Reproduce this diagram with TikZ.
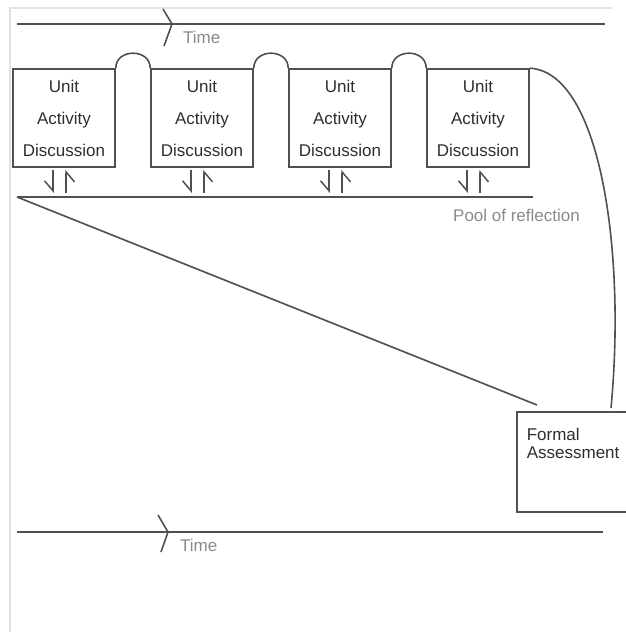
\documentclass[tikz,border=0pt]{standalone}
\usepackage{fontspec}
\setmainfont{Liberation Sans}
\usetikzlibrary{arrows.meta}

\definecolor{linegray}{HTML}{505050}
\definecolor{textdark}{HTML}{2E2E2E}
\definecolor{textlight}{HTML}{8A8A8A}
\definecolor{framegray}{HTML}{E2E2E2}

\begin{document}
\begin{tikzpicture}[
    x=1pt, y=-1pt,
    unit/.style={
      draw=linegray, line width=1.6pt, minimum width=102pt, minimum height=98pt,
      inner sep=0pt, align=center, text width=100pt, text=textdark,
      font=\fontsize{17}{32}\selectfont
    },
    fabox/.style={
      draw=linegray, line width=1.6pt, anchor=north west, align=left,
      text width=130pt, inner xsep=10pt, inner ysep=16pt,
      text height=13pt, text depth=55pt, text=textdark,
      font=\fontsize{17}{18}\selectfont
    },
    note/.style={anchor=west, inner sep=0pt, text=textlight, font=\fontsize{17}{20}\selectfont},
    ln/.style={draw=linegray, line width=1.6pt},
    hp/.style={-{Straight Barb[harpoon, swap, length=10pt, width=17pt]}, linegray, line width=1.5pt},
  ]
    \clip (0,0) rectangle (626,632);
    \draw[framegray, line width=1.8pt] (10,632) -- (10,8) -- (612,8);

    % time axes
    \coordinate (t1L) at (17,24);
    \coordinate (t1R) at (605,24);
    \coordinate (t2L) at (17,532);
    \coordinate (t2R) at (603,532);
    \draw[ln] (t1L) -- (t1R);
    \draw[ln] (163,9) -- (172,24) -- (164,46);
    \node[note] (time1) at (183,37) {Time};
    \draw[ln] (t2L) -- (t2R);
    \draw[ln] (158,515) -- (168,532) -- (161,552);
    \node[note] (time2) at (180,545) {Time};

    % units
    \node[unit] (u1) at (64,118) {Unit\\Activity\\Discussion};
    \node[unit] (u2) at (202,118) {Unit\\Activity\\Discussion};
    \node[unit] (u3) at (340,118) {Unit\\Activity\\Discussion};
    \node[unit] (u4) at (478,118) {Unit\\Activity\\Discussion};
    \draw[ln] (u1.north east) .. controls +(0,-20) and +(0,-20) .. (u2.north west);
    \draw[ln] (u2.north east) .. controls +(0,-20) and +(0,-20) .. (u3.north west);
    \draw[ln] (u3.north east) .. controls +(0,-20) and +(0,-20) .. (u4.north west);

    % pool
    \coordinate (poolL) at (17,197);
    \coordinate (poolR) at (533,197);
    \draw[ln] (poolL) -- (poolR);
    \node[note] (pool) at (453,215) {Pool of reflection};

    \draw[hp] ([xshift=-11pt, yshift=-2pt]u1.south) -- ++(0,23);
    \draw[hp] ([xshift=2pt, yshift=-25pt]u1.south) -- ++(0,-23);
    \draw[hp] ([xshift=-11pt, yshift=-2pt]u2.south) -- ++(0,23);
    \draw[hp] ([xshift=2pt, yshift=-25pt]u2.south) -- ++(0,-23);
    \draw[hp] ([xshift=-11pt, yshift=-2pt]u3.south) -- ++(0,23);
    \draw[hp] ([xshift=2pt, yshift=-25pt]u3.south) -- ++(0,-23);
    \draw[hp] ([xshift=-11pt, yshift=-2pt]u4.south) -- ++(0,23);
    \draw[hp] ([xshift=2pt, yshift=-25pt]u4.south) -- ++(0,-23);

    % assessment
    \node[fabox] (fa) at (516,411) {Formal\\Assessment};
    \coordinate (diagEnd) at (537,405);
    \coordinate (arcEnd) at (611,408);
    \draw[ln] (poolL) -- (diagEnd);
    \draw[ln] (u4.north east) .. controls (600,72) and (626,250) .. (arcEnd);
\end{tikzpicture}
\end{document}
